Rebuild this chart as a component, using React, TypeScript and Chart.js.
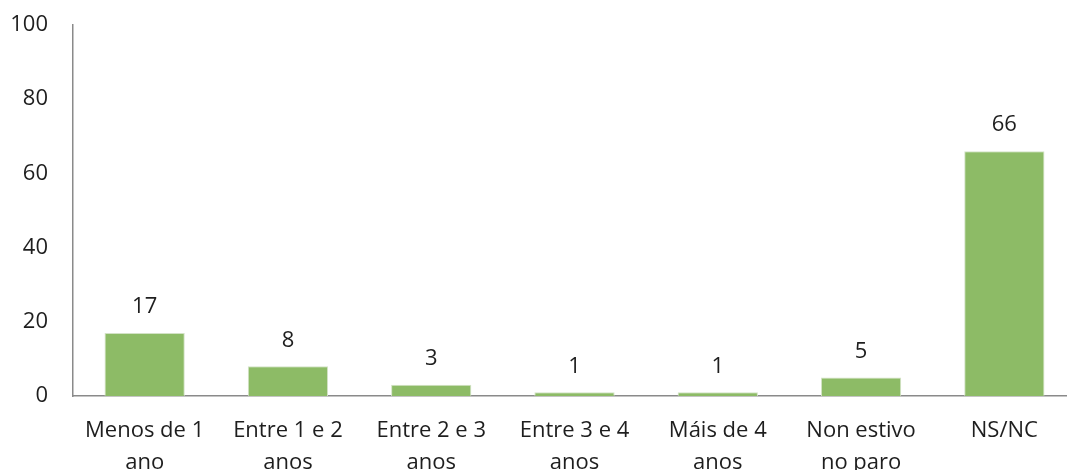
import React, { useEffect, useRef } from "react";
import { Chart, registerables } from "chart.js";

Chart.register(...registerables);

const categories: string[][] = [
  ["Menos de 1", "ano"],
  ["Entre 1 e 2", "anos"],
  ["Entre 2 e 3", "anos"],
  ["Entre 3 e 4", "anos"],
  ["Máis de 4", "anos"],
  ["Non estivo", "no paro"],
  ["NS/NC"],
];
const values: number[] = [17, 8, 3, 1, 1, 5, 66];
const yTicks: number[] = [0, 20, 40, 60, 80, 100];

const FONT = "'Open Sans', 'DejaVu Sans', sans-serif";
const TEXT = "#1e1e1e";

const valueLabels = {
  id: "valueLabels",
  afterDatasetsDraw(chart: any) {
    const ctx = chart.ctx;
    const meta = chart.getDatasetMeta(0);
    ctx.save();
    ctx.font = `22px ${FONT}`;
    ctx.fillStyle = TEXT;
    ctx.textAlign = "center";
    ctx.textBaseline = "middle";
    meta.data.forEach((bar: any, i: number) => {
      ctx.fillText(String(values[i]), bar.x, bar.y - 26);
    });
    ctx.restore();
  },
};

export default function App() {
  const ref = useRef<HTMLCanvasElement | null>(null);
  useEffect(() => {
    if (!ref.current) return;
    const chart = new Chart(ref.current, {
      type: "bar",
      data: {
        labels: categories,
        datasets: [
          {
            data: values,
            backgroundColor: "#8dbb66",
            borderColor: "#d3e2c6",
            borderWidth: 1,
            barPercentage: 0.56,
            categoryPercentage: 1,
          },
        ],
      },
      options: {
        responsive: false,
        animation: false,
        devicePixelRatio: 1,
        layout: { padding: { top: 25, right: 4, bottom: 0, left: 0 } },
        plugins: {
          legend: { display: false },
          tooltip: { enabled: false },
        },
        scales: {
          x: {
            grid: { display: false, drawTicks: false },
            border: { display: true, color: "#8a8a8a", width: 1.5 },
            ticks: {
              color: TEXT,
              font: { family: FONT, size: 22, lineHeight: 1.45 },
              padding: 19,
              maxRotation: 0,
              autoSkip: false,
            },
            afterFit: (scale: any) => {
              scale.height = 74;
              scale.paddingLeft = 0;
              scale.paddingRight = 0;
            },
          },
          y: {
            min: 0,
            max: 100,
            afterBuildTicks: (scale: any) => {
              scale.ticks = yTicks.map((v) => ({ value: v }));
            },
            grid: { display: false, drawTicks: false },
            border: { display: true, color: "#8a8a8a", width: 1.5 },
            ticks: {
              color: TEXT,
              font: { family: FONT, size: 22 },
              padding: 25,
            },
            afterFit: (scale: any) => {
              scale.width = 73;
              scale.paddingTop = 0;
              scale.paddingBottom = 0;
            },
          },
        },
      },
      plugins: [valueLabels],
    });
    return () => chart.destroy();
  }, []);
  return (
    <div
      style={{
        position: "fixed",
        left: 0,
        top: 0,
        width: 1067,
        height: 470,
        overflow: "hidden",
        background: "#ffffff",
      }}
    >
      <canvas ref={ref} width={1080} height={470} style={{ display: "block" }} />
    </div>
  );
}
